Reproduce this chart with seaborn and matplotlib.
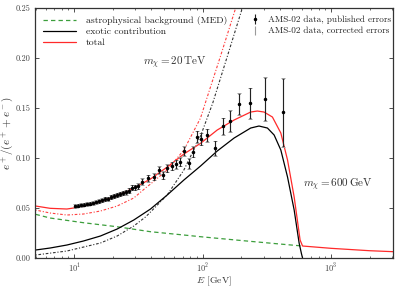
import numpy as np
import pandas as pd
import matplotlib
matplotlib.use("Agg")
import matplotlib.pyplot as plt
import seaborn as sns
from matplotlib.lines import Line2D
from matplotlib.ticker import FuncFormatter, LogLocator, MultipleLocator

# ---------------- data ----------------
E_data = [10.2, 10.7, 11.3, 12.0, 12.6, 13.3, 14.1, 14.9, 15.7, 16.5, 17.5, 18.4,
          19.5, 20.5, 21.7, 22.9, 24.1, 25.5, 26.9, 28.4, 30.0, 31.6, 33.8, 37.4,
          41.7, 45.6, 49.4, 53.0, 58.0, 62.6, 66.5, 71.5, 78.2, 84.0, 89.7, 96.4,
          109, 124, 143, 163, 191, 233, 305, 422]
frac_data = [0.0520, 0.0525, 0.0530, 0.0535, 0.0540, 0.0545, 0.0550, 0.0560, 0.0570,
             0.0580, 0.0590, 0.0595, 0.0610, 0.0620, 0.0630, 0.0640, 0.0650, 0.0660,
             0.0675, 0.0705, 0.0707, 0.0720, 0.0765, 0.0797, 0.0813, 0.0880, 0.0830,
             0.0897, 0.0923, 0.0937, 0.0963, 0.1070, 0.0947, 0.1063, 0.1213, 0.1190,
             0.1230, 0.1100, 0.1320, 0.1370, 0.1540, 0.1550, 0.1590, 0.1460]
err_corrected = [0.0016, 0.0016, 0.0016, 0.0017, 0.0017, 0.0017, 0.0018, 0.0018, 0.0019,
                 0.0019, 0.0020, 0.0020, 0.0021, 0.0022, 0.0022, 0.0023, 0.0024, 0.0025,
                 0.0026, 0.0027, 0.0028, 0.0029, 0.0031, 0.0033, 0.0035, 0.0037, 0.0039,
                 0.0040, 0.0042, 0.0044, 0.0046, 0.0048, 0.0052, 0.0055, 0.0060, 0.0062,
                 0.0065, 0.0075, 0.0085, 0.0110, 0.0110, 0.0155, 0.0220, 0.0345]
err_published = [0.0012, 0.0012, 0.0012, 0.0013, 0.0013, 0.0013, 0.0014, 0.0014, 0.0015,
                 0.0015, 0.0016, 0.0016, 0.0017, 0.0018, 0.0018, 0.0019, 0.0020, 0.0021,
                 0.0022, 0.0023, 0.0024, 0.0025, 0.0027, 0.0029, 0.0031, 0.0033, 0.0035,
                 0.0036, 0.0038, 0.0040, 0.0042, 0.0044, 0.0048, 0.0051, 0.0056, 0.0058,
                 0.0061, 0.0071, 0.0080, 0.0104, 0.0104, 0.0148, 0.0210, 0.0335]

E_bg = [5.0, 6.49, 11.8, 21.5, 39.3, 71.5, 96.4, 200, 400, 601]
bg = [0.0437, 0.0400, 0.0353, 0.0313, 0.0263, 0.0230, 0.0213, 0.0175, 0.0140, 0.0120]

E_exo600 = [5.0, 6.49, 8.77, 11.8, 16.0, 21.6, 29.1, 39.3, 53.0, 71.5, 96.4, 130, 176,
            237, 275, 320, 361, 407, 459, 517, 565, 590, 601]
exo600 = [0.008, 0.010, 0.013, 0.017, 0.022, 0.029, 0.038, 0.049, 0.063, 0.078, 0.092,
          0.107, 0.120, 0.130, 0.132, 0.130, 0.123, 0.108, 0.081, 0.048, 0.015, 0.004, 0.0]

E_tot600 = [5.0, 6.49, 8.77, 11.8, 16.0, 21.6, 29.1, 39.3, 53.0, 71.5, 96.4, 130, 176,
            237, 267, 301, 350, 407, 459, 517, 575, 601, 1000, 2000, 3100]
tot600 = [0.052, 0.0497, 0.0490, 0.0515, 0.0565, 0.0625, 0.0700, 0.0790, 0.0910, 0.1040,
          0.1147, 0.1280, 0.1380, 0.1460, 0.1470, 0.1460, 0.1410, 0.1250, 0.0980, 0.0610,
          0.0180, 0.0120, 0.0097, 0.0073, 0.0063]

E_exo20 = [5.0, 8.77, 16.0, 21.6, 29.1, 35.9, 39.3, 53.0, 71.5, 96.4, 120, 157, 204, 230]
exo20 = [0.003, 0.007, 0.015, 0.022, 0.032, 0.041, 0.046, 0.063, 0.088, 0.122, 0.155,
         0.203, 0.250, 0.275]

E_tot20 = [5.0, 6.49, 8.77, 11.8, 16.0, 21.6, 29.1, 35.9, 39.3, 53.0, 71.5, 96.4, 105,
           138, 181, 200]
tot20 = [0.048, 0.045, 0.043, 0.044, 0.047, 0.052, 0.060, 0.070, 0.074, 0.088, 0.108,
         0.140, 0.155, 0.202, 0.250, 0.275]

# ---------------- style ----------------
sns.set_style("ticks")
plt.rcParams["font.family"] = ["cmr10", "DejaVu Serif"]
plt.rcParams["mathtext.fontset"] = "cm"
plt.rcParams["axes.formatter.use_mathtext"] = True
plt.rcParams["axes.unicode_minus"] = False

fig = plt.figure(figsize=(3.97, 2.87), dpi=100)
ax = fig.add_axes([0.0882, 0.101, 0.902, 0.871])

GREEN = "#3c9e3c"
RED = "#ff2a2a"
dot_style = (0, (1.0, 1.6, 2.4, 1.6))

sns.lineplot(x=E_bg, y=bg, ax=ax, color=GREEN, lw=0.9, estimator=None,
             sort=False, linestyle=(0, (3.5, 2.5)))
sns.lineplot(x=E_exo20, y=exo20, ax=ax, color="#333333", lw=0.8, estimator=None,
             sort=False, linestyle=dot_style)
sns.lineplot(x=E_tot20, y=tot20, ax=ax, color="#ff4040", lw=0.8, estimator=None,
             sort=False, linestyle=dot_style)
sns.lineplot(x=E_exo600, y=exo600, ax=ax, color="black", lw=0.9, estimator=None, sort=False)
sns.lineplot(x=E_tot600, y=tot600, ax=ax, color=RED, lw=0.9, estimator=None, sort=False)

ax.errorbar(E_data, frac_data, yerr=err_corrected, fmt="none", ecolor="#9a9a9a",
            elinewidth=0.8, capsize=1.6, capthick=0.7, zorder=4)
ax.errorbar(E_data, frac_data, yerr=err_published, fmt="o", ms=1.5, color="black",
            ecolor="#222222", elinewidth=0.8, capsize=0.8, capthick=0.6, zorder=5)

ax.set_xscale("log")
ax.set_xlim(4.95, 3050)
ax.set_ylim(0.0, 0.25)
ax.yaxis.set_major_locator(MultipleLocator(0.05))
ax.yaxis.set_major_formatter(FuncFormatter(lambda v, p: f"{v:.2f}"))
ax.xaxis.set_major_locator(LogLocator(base=10, numticks=10))
ax.xaxis.set_minor_locator(LogLocator(base=10, subs=np.arange(2, 10), numticks=20))

ax.tick_params(which="both", direction="in", top=True, right=True, colors="#333333",
               labelcolor="#444444", labelsize=6)
ax.tick_params(which="major", length=3, width=0.6, pad=3)
ax.tick_params(axis="x", which="major", pad=2.5)
ax.tick_params(which="minor", length=1.6, width=0.5)
for s in ax.spines.values():
    s.set_color("#333333")
    s.set_linewidth(0.9)

ax.set_xlabel(r"$E$ [GeV]", fontsize=7.0, color="#333333", va="center")
ax.xaxis.set_label_coords(0.5, -0.094)
ax.set_ylabel(r"$e^+/(e^+ + e^-)$", fontsize=8, color="#333333", labelpad=0)

ax.text(34.6, 0.195, r"$m_\chi = 20\,\mathrm{TeV}$", fontsize=8, color="#333333",
        ha="left", va="center")
ax.text(605, 0.073, r"$m_\chi = 600\,\mathrm{GeV}$", fontsize=8, color="#333333",
        ha="left", va="center")

h1 = [Line2D([], [], color=GREEN, lw=0.9, linestyle=(0, (3.5, 2.5))),
      Line2D([], [], color="black", lw=0.9),
      Line2D([], [], color=RED, lw=0.9)]
leg1 = ax.legend(h1, ["astrophysical background (MED)", "exotic contribution", "total"],
                 loc="upper left", bbox_to_anchor=(0.0, 1.0), frameon=False, fontsize=7.0,
                 handlelength=3.4, handletextpad=1.0, labelspacing=0.22, borderaxespad=0.45)
for t in leg1.get_texts():
    t.set_color("#222222")
ax.add_artist(leg1)

hp = ax.errorbar([], [], yerr=[], fmt="o", ms=1.5, color="black", ecolor="#222222",
                 elinewidth=0.8, capsize=0.8)
hc = ax.errorbar([], [], yerr=[], fmt="none", ecolor="#9a9a9a", elinewidth=0.8, capsize=1.6)
leg2 = ax.legend([hp, hc], ["AMS-02 data, published errors", "AMS-02 data, corrected errors"],
                 loc="upper left", bbox_to_anchor=(0.58, 1.0), frameon=False, fontsize=6.6,
                 handlelength=1.0, handletextpad=0.9, labelspacing=0.3, borderaxespad=0.45,
                 borderpad=0.4)
for t in leg2.get_texts():
    t.set_color("#222222")

fig.savefig("out.png", dpi=100)
